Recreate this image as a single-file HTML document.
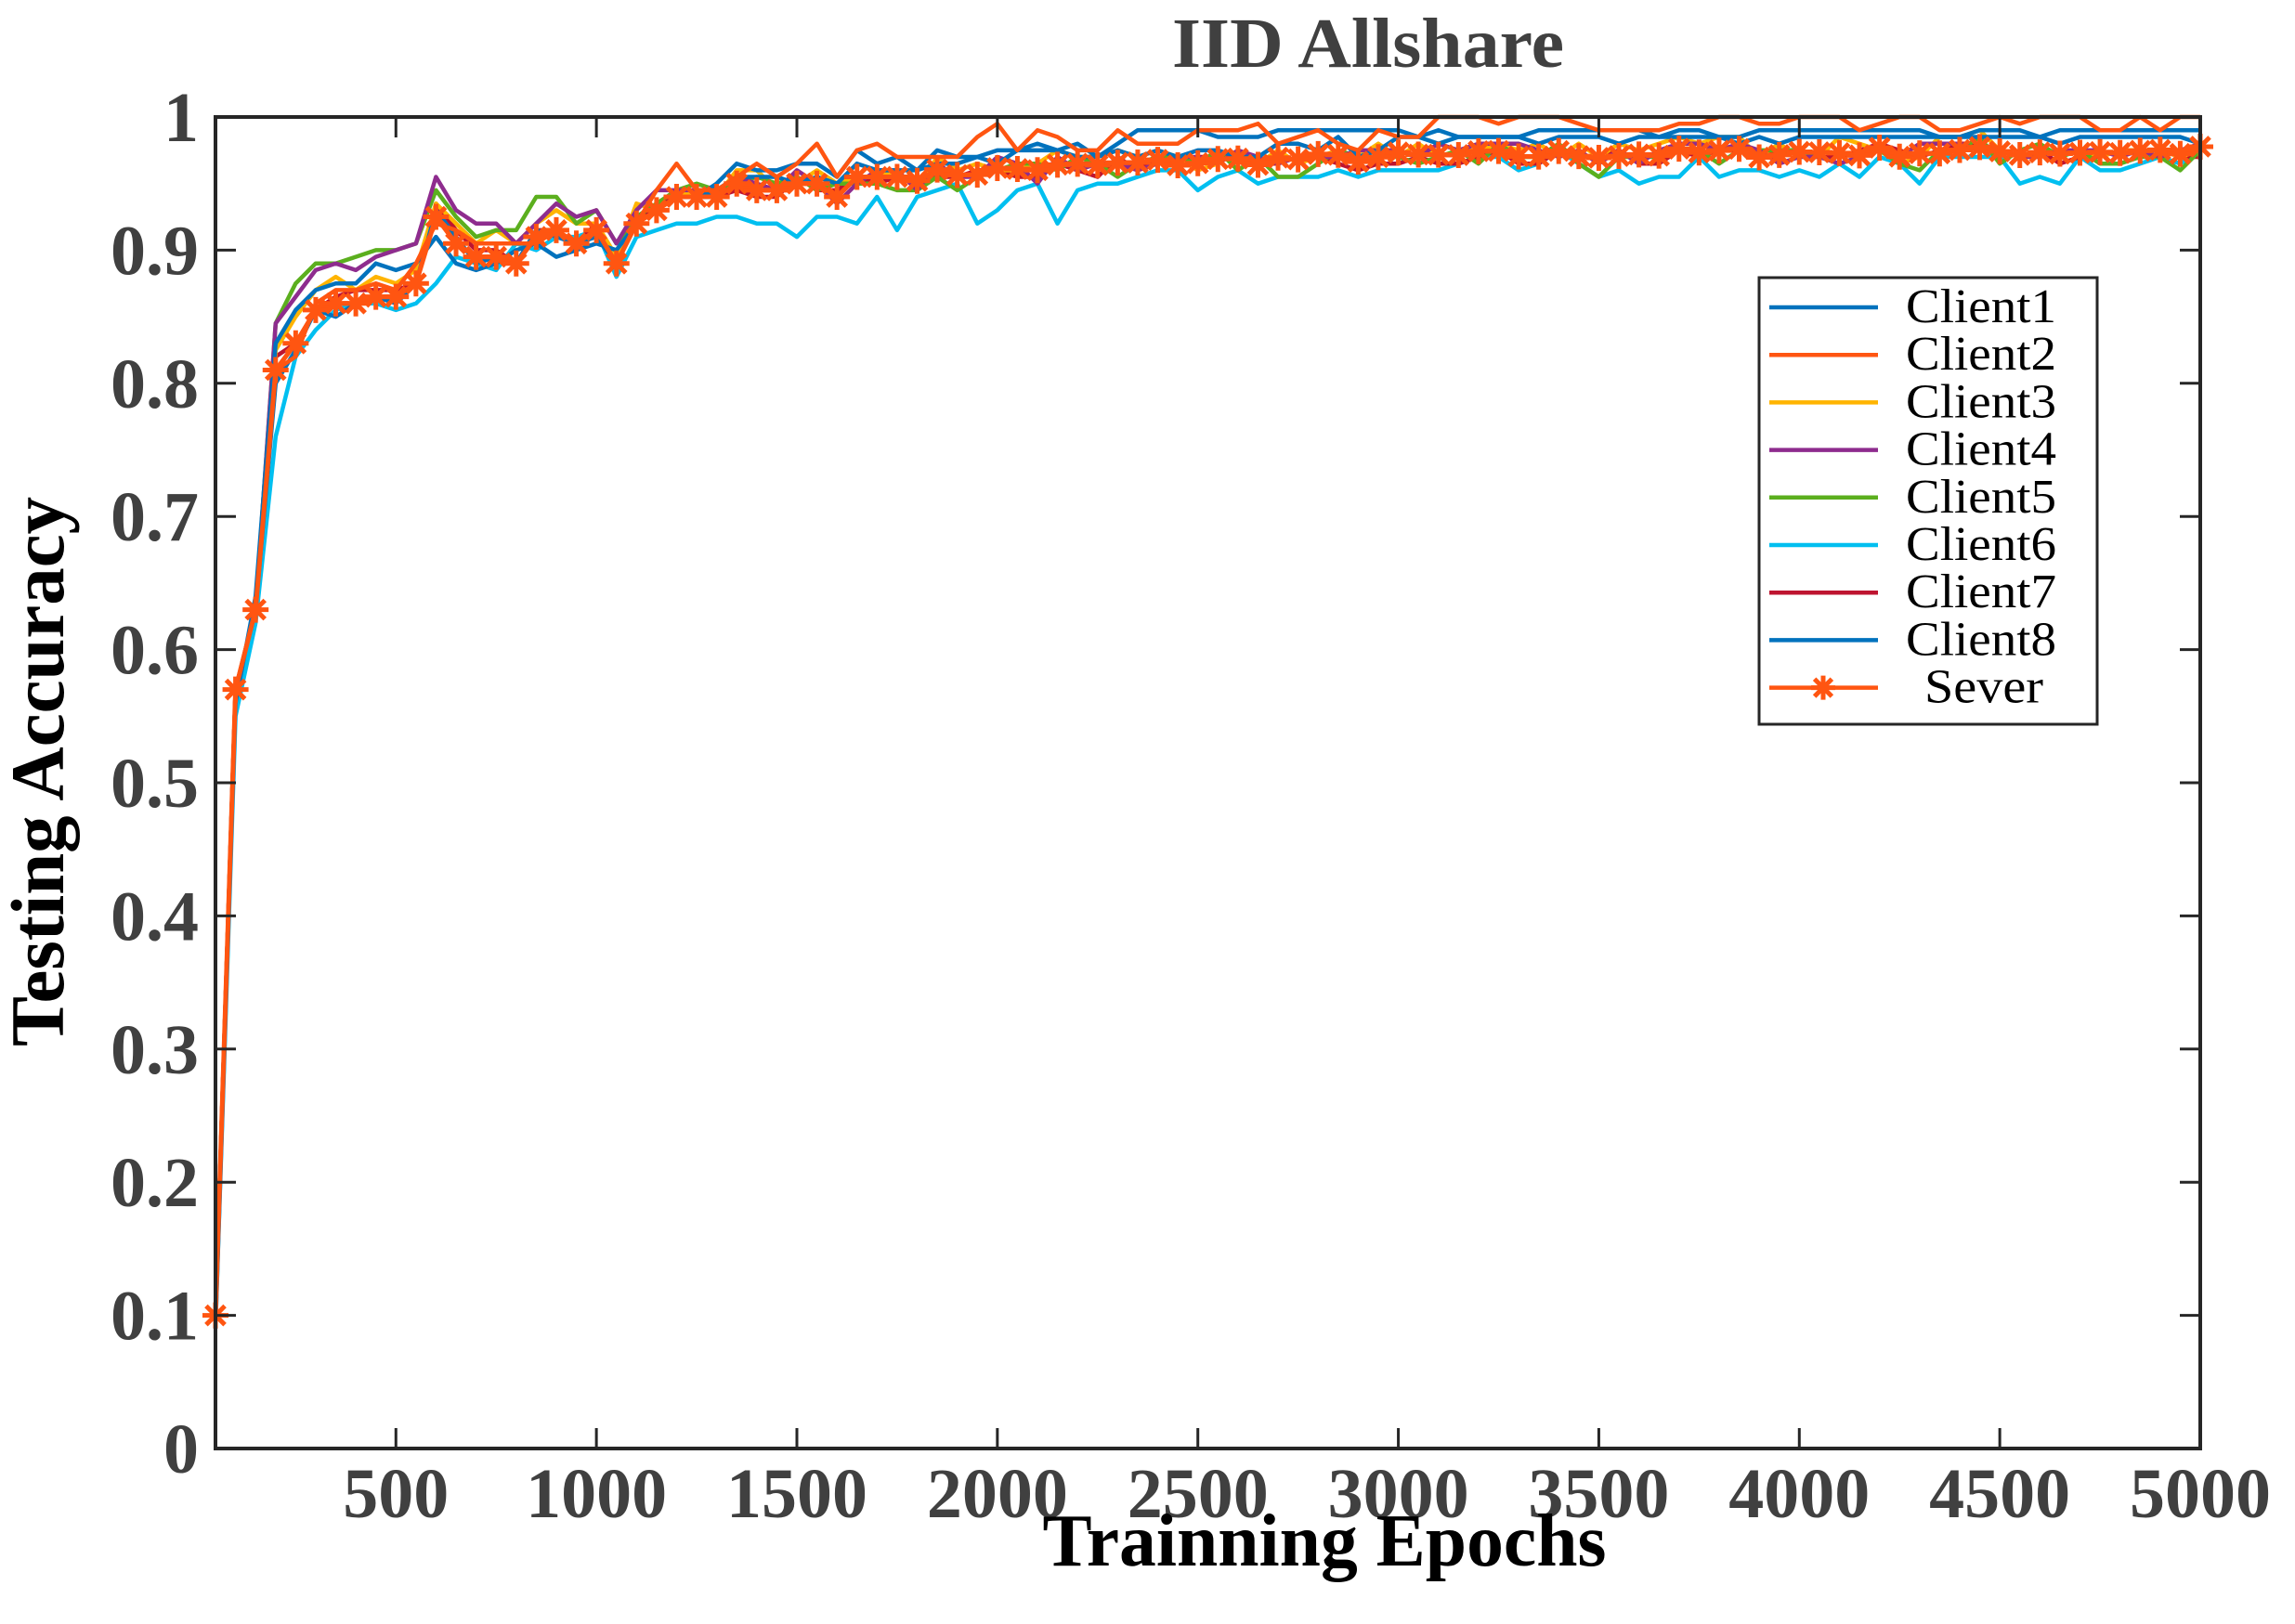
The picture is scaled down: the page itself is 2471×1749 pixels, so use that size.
<!DOCTYPE html>
<html><head><meta charset="utf-8"><style>html,body{margin:0;padding:0;background:#fff}svg{display:block}</style></head>
<body>
<svg id="s" width="2471" height="1749" xmlns="http://www.w3.org/2000/svg" font-family="'Liberation Serif',serif">
<rect width="2471" height="1749" fill="#fff"/>
<g id="plot"></g>
<rect x="232" y="126" width="2137" height="1434" fill="none" stroke="#262626" stroke-width="4"/>
<g id="ticks" stroke="#262626" stroke-width="3"></g>
<g id="labels" font-weight="bold" fill="#404040" font-size="76"></g>
<text x="1473" y="72" text-anchor="middle" font-weight="bold" font-size="76" fill="#404040" textLength="422" lengthAdjust="spacingAndGlyphs">IID Allshare</text>
<text x="1426" y="1686" text-anchor="middle" font-weight="bold" font-size="80" fill="#000" textLength="607" lengthAdjust="spacingAndGlyphs">Trainning Epochs</text>
<text transform="translate(68,831) rotate(-90)" text-anchor="middle" font-weight="bold" font-size="82" fill="#000" textLength="592" lengthAdjust="spacingAndGlyphs">Testing Accuracy</text>
<g id="legend"><rect x="1894" y="299" width="364" height="481" fill="#fff" stroke="#262626" stroke-width="3"/></g>
</svg>
<script>
var NS="http://www.w3.org/2000/svg";
function el(p,t,a,txt){var e=document.createElementNS(NS,t);for(var k in a)e.setAttribute(k,a[k]);if(txt!=null)e.textContent=txt;document.getElementById(p).appendChild(e);return e;}
var X0=232,X1=2369,Y0=1560,Y1=126;
function px(x){return X0+(x-50)*(X1-X0)/4950;}
function py(y){return Y0-y*(Y0-Y1);}
for(var i=0;i<=10;i++){var y=py(i/10);
 el("ticks","line",{x1:X0,y1:y,x2:X0+22,y2:y});el("ticks","line",{x1:X1,y1:y,x2:X1-22,y2:y});
 el("labels","text",{x:214,y:y+26,"text-anchor":"end"},i==0?"0":i==10?"1":"0."+i);}
for(var v=500;v<=5000;v+=500){var x=px(v);
 el("ticks","line",{x1:x,y1:Y0,x2:x,y2:Y0-22});el("ticks","line",{x1:x,y1:Y1,x2:x,y2:Y1+22});
 el("labels","text",{x:x,y:1634,"text-anchor":"middle"},String(v));}
var early=[0.10,0.57,0.63,0.81,0.83,0.855,0.86,0.86,0.865,0.865,0.875,0.925,0.905,0.895,0.895,0.89,0.91,0.915,0.905,0.915,0.89,0.92,0.93,0.94,0.94,0.94,0.95,0.945,0.945,0.95,0.95,0.94,0.955,0.955,0.955];
var seed=7;function rnd(){seed=(seed*16807)%2147483647;return seed/2147483647;}
var N=100,base=[];
for(var i=0;i<N;i++){var t=50+50*i;
 if(i<early.length)base.push(early[i]);
 else base.push(0.955+0.02*(1-Math.exp(-(t-1750)/900))+(rnd()-0.5)*0.008);}
var cols=["#0072BD","#FF5511","#FFB400","#8E2C8E","#5BAF1E","#00BFF0","#BE1430","#0072BD"];
var eo=[0.01,0.0,0.015,0.03,0.035,-0.01,0.005,-0.005];
var lo=[0.013,0.02,0.003,0.0,-0.003,-0.011,-0.002,0.009];
var amp=[0.006,0.012,0.008,0.008,0.01,0.01,0.006,0.006];
var spec={0:[0.09,0.56,0.64,0.83,0.855,0.87,0.875,0.875,0.89,0.885,0.89,0.91,0.89,0.885,0.89,0.9,0.905,0.895,0.9,0.905,0.9,0.92,0.93,0.94,0.94],
 5:[0.09,0.55,0.62,0.76,0.82,0.84,0.855,0.86,0.86,0.855,0.86,0.875,0.895,0.89,0.885,0.905,0.9,0.91,0.91,0.915,0.88,0.91,0.915,0.92,0.92,0.925,0.925,0.92,0.92,0.91,0.925,0.925,0.92,0.94,0.915,0.94,0.945,0.95,0.92,0.93,0.945,0.95,0.92,0.945,0.95,0.95,0.955]};
var series=[];
for(var c=0;c<8;c++){var arr=[];
 for(var i=0;i<N;i++){var t=50+50*i,v;
  if(spec[c]&&i<spec[c].length)v=spec[c][i];
  else{var w=Math.min(1,Math.max(0,(t-300)/1500));var off=(i<3?0:eo[c]*(1-w)+lo[c]*w);
   v=base[i]+off+(rnd()-0.5)*2*amp[c]*(i<3?0.2:1);}
  if(c==0&&t>2300)v=(rnd()<0.85)?0.99:0.985;
  if(c==7&&t>3000)v=(rnd()<0.85)?0.985:0.98;
  if(c==1&&t>3500)v=Math.max(v,0.99);
  arr.push(Math.min(1,Math.round(v*200)/200));}
 series.push(arr);}
var order=[5,6,2,4,3,0,7,1];
order.forEach(function(c){var d="";series[c].forEach(function(v,i){d+=(i?"L":"M")+px(50+50*i).toFixed(1)+","+py(v).toFixed(1);});
 el("plot","path",{d:d,fill:"none",stroke:cols[c],"stroke-width":4.5,"stroke-linejoin":"round"});});
var d="";base.forEach(function(v,i){d+=(i?"L":"M")+px(50+50*i).toFixed(1)+","+py(v).toFixed(1);});
el("plot","path",{d:d,fill:"none",stroke:"#FF5511","stroke-width":5});
function star(g,x,y,r){var s="";s+="M"+(x-r)+","+y+"L"+(x+r)+","+y+"M"+x+","+(y-r)+"L"+x+","+(y+r);var q=r*0.72;
 s+="M"+(x-q)+","+(y-q)+"L"+(x+q)+","+(y+q)+"M"+(x-q)+","+(y+q)+"L"+(x+q)+","+(y-q);
 el(g,"path",{d:s,stroke:"#FF5511","stroke-width":5,fill:"none"});}
base.forEach(function(v,i){star("plot",px(50+50*i),py(v),14);});
var names=["Client1","Client2","Client3","Client4","Client5","Client6","Client7","Client8"];
for(var k=0;k<9;k++){var y=331+k*51.2;
 el("legend","line",{x1:1905,y1:y,x2:2022,y2:y,stroke:k<8?cols[k]:"#FF5511","stroke-width":4.5});
 if(k<8)el("legend","text",{x:2052,y:y+16,"font-size":52,fill:"#000",textLength:162,lengthAdjust:"spacingAndGlyphs"},names[k]);
 else{star("legend",1963,y,13);el("legend","text",{x:2072,y:y+16,"font-size":52,fill:"#000",textLength:128,lengthAdjust:"spacingAndGlyphs"},"Sever");}}
</script>
</body></html>
